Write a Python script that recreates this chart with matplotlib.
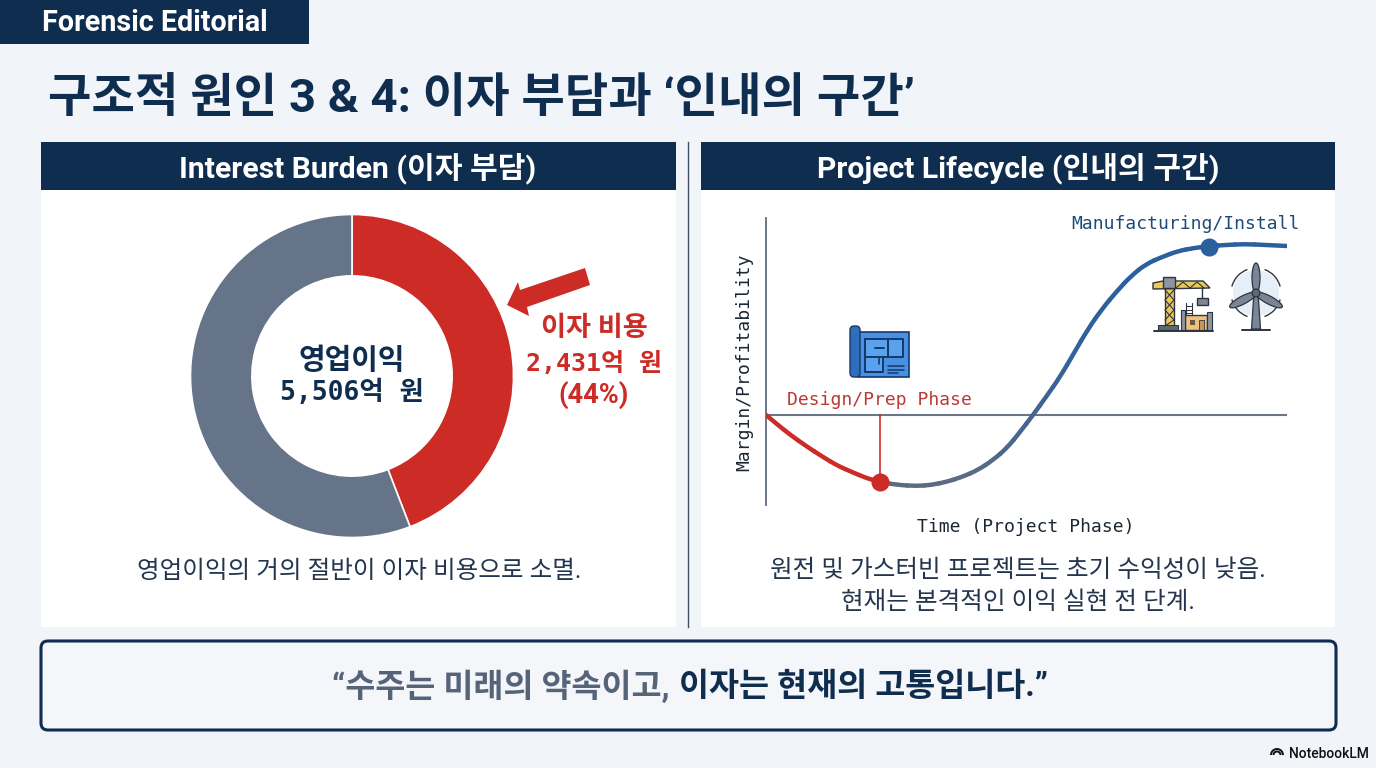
import numpy as np
import matplotlib
matplotlib.use('Agg')
import matplotlib.pyplot as plt
from matplotlib.path import Path
from matplotlib.patches import Rectangle, Polygon, FancyBboxPatch, Circle, Ellipse, Arc, PathPatch

plt.rcParams['font.family'] = ['Roboto', 'Noto Sans CJK KR', 'DejaVu Sans']

NAVY = '#0f2d4e'
RED = '#cc2b26'
GRAY = '#66748a'
BLUE = '#2b5f9e'
BG = '#f1f4f9'
MONO = ['DejaVu Sans Mono']
MONO_KR = ['DejaVu Sans Mono', 'Noto Sans CJK KR']

# donut values (억 원)
donut_labels = ['이자 비용', '나머지']
interest_cost = 2431
operating_profit = 5506
donut_values = [interest_cost, operating_profit - interest_cost]

# lifecycle curve
curve_time = [0, 12, 24.5, 40, 57, 72, 86, 100, 114, 132, 151, 165, 180, 196, 212, 227, 241, 254,
              267, 280, 294, 308, 322, 336, 351, 365, 380, 396, 412, 428, 444, 460, 478, 500, 521]
curve_margin = [0, -10, -20, -31, -42, -51, -57, -63, -67, -70, -71, -70, -67, -62, -55, -45, -33, -17,
                0, 18, 38, 62, 86, 106, 124, 139, 151, 158, 164, 167, 169, 170, 171, 170, 169]
design_point = (114, -67)
install_point = (443, 168)

fig = plt.figure(figsize=(13.76, 7.68), dpi=100, facecolor=BG)


def px_axes(x0, y0, x1, y1, z):
    # axes from pixel box, y measured from the top
    return fig.add_axes([x0 / 1376, 1 - y1 / 768, (x1 - x0) / 1376, (y1 - y0) / 768], zorder=z)


bg = px_axes(0, 0, 1376, 768, 0)
bg.set_xlim(0, 1376)
bg.set_ylim(768, 0)
bg.axis('off')


def box(x0, y0, x1, y1, color, **kw):
    bg.add_patch(Rectangle((x0, y0), x1 - x0, y1 - y0, fc=color, ec=kw.pop('ec', 'none'), **kw))


def line(xs, ys, color, lw=1.0, z=4):
    bg.plot(xs, ys, color=color, lw=lw, zorder=z, solid_capstyle='round')


# top tag and title
box(0, 0, 309, 44, NAVY)
bg.text(42, 23, 'Forensic Editorial', color='white', fontsize=20.7, fontweight='bold', va='center')
bg.text(48, 99, '구조적 원인 3 & 4: 이자 부담과 ‘인내의 구간’', color=NAVY, fontsize=34, fontweight='bold', va='center')

# panels
box(41, 190, 676, 627, 'white')
box(701, 190, 1335, 627, 'white')
box(41, 142, 676, 190, NAVY)
box(701, 142, 1335, 190, NAVY)
bg.plot([688, 688], [142, 627], color='#3f4f66', lw=1.0)
bg.text(358, 168, 'Interest Burden (이자 부담)', color='white', fontsize=21.7, fontweight='bold', ha='center', va='center')
bg.text(1018, 168, 'Project Lifecycle (인내의 구간)', color='white', fontsize=21.7, fontweight='bold', ha='center', va='center')

# donut
dax = px_axes(190, 214, 514, 538, 1)
dax.pie(donut_values, colors=[RED, GRAY], startangle=90, counterclock=False, radius=1,
        wedgeprops=dict(width=0.38, edgecolor='white', linewidth=1.2))
dax.set_xlim(-1.003, 1.003)
dax.set_ylim(-1.003, 1.003)
dax.text(0, 0.095, '영업이익', color=NAVY, fontsize=20.8, fontweight='bold', ha='center', va='center')
dax.text(0, -0.107, f'{operating_profit:,}억 원', color=NAVY, fontsize=19, fontweight='bold',
         ha='center', va='center', family=MONO_KR)

# callout
bg.add_patch(Polygon([(507, 305), (518, 282), (520, 290), (585, 268), (590, 285), (527, 307), (529, 316)],
                     fc=RED, ec='none'))
bg.text(594, 329, donut_labels[0], color=RED, fontsize=19.6, fontweight='bold', ha='center', va='center')
bg.text(594, 364, f'{interest_cost:,}억 원', color=RED, fontsize=18, fontweight='bold', ha='center', va='center', family=MONO_KR)
bg.text(594, 395, f'({interest_cost / operating_profit:.0%})', color=RED, fontsize=19.6, fontweight='bold', ha='center', va='center')

# captions
bg.text(359, 571, '영업이익의 거의 절반이 이자 비용으로 소멸.', color='#24364f', fontsize=17.7, ha='center', va='center')
bg.text(1018, 570, '원전 및 가스터빈 프로젝트는 초기 수익성이 낮음.', color='#24364f', fontsize=17.7, ha='center', va='center')
bg.text(1018, 602, '현재는 본격적인 이익 실현 전 단계.', color='#24364f', fontsize=17.7, ha='center', va='center')

# lifecycle chart
cax = px_axes(766, 205, 1287, 505, 1)
cax.patch.set_alpha(0)
cax.set_xlim(0, 521)
cax.set_ylim(-90, 210)
for s in ['top', 'right', 'bottom']:
    cax.spines[s].set_visible(False)
cax.spines['left'].set_color('#5d6b82')
cax.spines['left'].set_linewidth(1.3)
cax.spines['left'].set_bounds(-90, 197)
cax.set_xticks([])
cax.set_yticks([])
cax.axhline(0, color='#6b7689', lw=1.5, zorder=1)
cax.plot([design_point[0]] * 2, [0, design_point[1]], color=RED, lw=1.2, zorder=2)

# quadratic pieces through midpoints so the read points give a smooth line
pts = np.column_stack([curve_time, curve_margin]).astype(float)
mids = (pts[:-1] + pts[1:]) / 2
gray_rgb = np.array(matplotlib.colors.to_rgb('#5d6b82'))
blue_rgb = np.array(matplotlib.colors.to_rgb(BLUE))
for i in range(1, len(pts) - 1):
    start = pts[0] if i == 1 else mids[i - 1]
    end = pts[-1] if i == len(pts) - 2 else mids[i]
    if pts[i][0] <= design_point[0]:
        col = RED
    else:
        f = np.clip((pts[i][0] - 200) / 130, 0, 1)
        col = tuple(gray_rgb + (blue_rgb - gray_rgb) * f)
    p = Path([start, pts[i], end], [Path.MOVETO, Path.CURVE3, Path.CURVE3])
    cax.add_patch(PathPatch(p, fc='none', ec=col, lw=3.2, capstyle='round', zorder=3))
cax.plot(*design_point, 'o', ms=13, color=RED, mec='none', zorder=4, clip_on=False)
cax.plot(*install_point, 'o', ms=13, color=BLUE, mec='none', zorder=4, clip_on=False)

bg.text(879, 400, 'Design/Prep Phase', color='#b93a36', fontsize=13, family=MONO, ha='center', va='center')
bg.text(1185, 224, 'Manufacturing/Install', color='#1f4a78', fontsize=13, family=MONO, ha='center', va='center')
bg.text(1026, 527, 'Time (Project Phase)', color='#1c2733', fontsize=13, family=MONO, ha='center', va='center')
bg.text(744, 362, 'Margin/Profitability', color='#1c2733', fontsize=13, family=MONO, rotation=90, ha='center', va='center')

# blueprint icon
ln = '#123a6b'
box(858, 332, 909, 377, '#4a90e2', ec=ln, lw=1.2, zorder=2)
bg.add_patch(FancyBboxPatch((850, 326), 10, 51, boxstyle='round,pad=0,rounding_size=4', fc='#2f6dbd', ec=ln, lw=1.0, zorder=3))
box(865, 339, 903, 357, '#5aa2ee', zorder=3)
box(865, 357, 883, 372, '#5aa2ee', zorder=3)
line([865, 903, 903, 865, 865, 865, 883, 883], [339, 339, 357, 357, 339, 372, 372, 357], ln, 1.4)
line([888, 888], [339, 357], ln, 1.4)
line([875, 884], [348, 348], ln, 1.4)
line([879, 879], [357, 364], ln, 1.2)
for yy, x1 in [(366, 904), (369.5, 904), (373, 898)]:
    line([888, x1], [yy, yy], ln, 1.1)

# crane icon
k = '#2b3440'
y_c = '#e9c85c'
box(1165, 286, 1174, 326, y_c, ec=k, lw=1)
line([1165, 1174, 1165, 1174, 1165], [290, 300, 310, 320, 326], k, 0.8)
line([1174, 1165, 1174, 1165], [290, 300, 310, 320], k, 0.8)
bg.add_patch(Polygon([(1153, 283), (1163, 281), (1203, 281), (1210, 288), (1153, 289), ], fc=y_c, ec=k, lw=1))
line([1176, 1183, 1190, 1197, 1204], [288, 282, 288, 282, 288], k, 0.8)
box(1163, 277, 1175, 288, '#8c96a3', ec=k, lw=1)
line([1202, 1202], [288, 298], k, 1)
box(1197, 298, 1208, 305, '#7d8894', ec=k, lw=1)
box(1158, 325, 1178, 330, '#5d6875', ec=k, lw=0.8)
box(1185, 315, 1207, 330, '#eec07f', ec=k, lw=1)
box(1181, 310, 1185, 330, '#8c96a3', ec=k, lw=0.8)
box(1207, 312, 1212, 330, '#8c96a3', ec=k, lw=0.8)
line([1186, 1186], [303, 315], k, 0.8)
line([1192, 1192], [303, 315], k, 0.8)
for yy in [306, 310, 313]:
    line([1186, 1192], [yy, yy], k, 0.7)
box(1190, 320, 1195, 325, '#6b5a3a')
box(1199, 320, 1204, 330, '#c9955a', ec=k, lw=0.6)
line([1154, 1213], [331, 331], k, 1.4)

# wind turbine icon
t_gray = '#7b8694'
cx, cy = 1256, 293
bg.add_patch(Circle((cx, cy), 23, fc='#e6eff7', ec='none'))
for th1, th2 in [(195, 250), (290, 345), (15, 70), (110, 165)]:
    bg.add_patch(Arc((cx, cy), 50, 50, theta1=th1, theta2=th2, color=k, lw=1))
bg.add_patch(Polygon([(cx - 2, cy), (cx + 2, cy), (cx + 4.5, 329), (cx - 4.5, 329)], fc=t_gray, ec=k, lw=0.9))
bg.add_patch(Ellipse((cx, cy - 15), 8, 30, fc=t_gray, ec=k, lw=0.9))
bg.add_patch(Ellipse((cx + 13, cy + 7), 8, 30, angle=-62, fc=t_gray, ec=k, lw=0.9))
bg.add_patch(Ellipse((cx - 13, cy + 7), 8, 30, angle=62, fc=t_gray, ec=k, lw=0.9))
bg.add_patch(Circle((cx, cy), 4, fc='#5d6875', ec=k, lw=0.9))
line([cx - 14, cx + 14], [330, 330], k, 1.4)

# quote box
bg.add_patch(FancyBboxPatch((41, 641), 1295, 89, boxstyle='round,pad=0,rounding_size=7', fc='#f4f6fa', ec=NAVY, lw=2.2))
bg.text(669, 687, '“수주는 미래의 약속이고,', color='#56647a', fontsize=23.5, fontweight='bold', ha='right', va='center')
bg.text(679, 687, '이자는 현재의 고통입니다.”', color=NAVY, fontsize=23.5, fontweight='bold', ha='left', va='center')

# footer mark
bg.text(1289, 754, 'NotebookLM', color='#111111', fontsize=10, fontweight='medium', va='center')
for r in [6, 3.5]:
    bg.add_patch(Arc((1277, 755), r * 2, r * 2, theta1=180, theta2=360, color='#111111', lw=1.4))

fig.savefig('out.png', dpi=100, facecolor=BG)
